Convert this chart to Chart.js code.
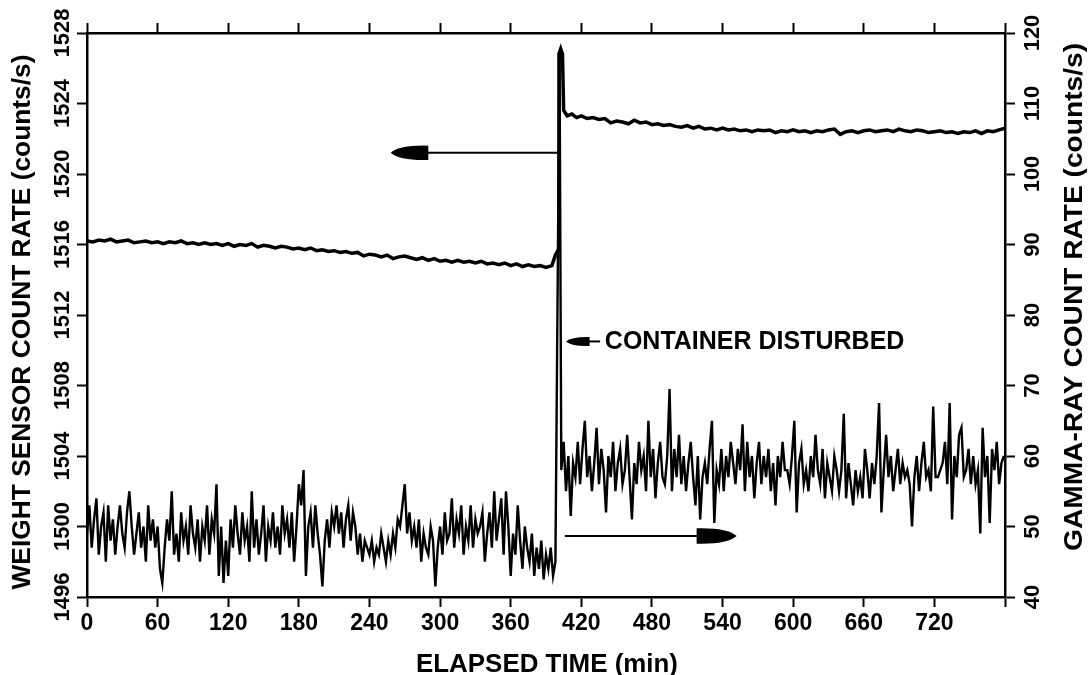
<!DOCTYPE html>
<html>
<head>
<meta charset="utf-8">
<script src="https://cdn.jsdelivr.net/npm/chart.js@4"></script>
<style>
  html, body { margin: 0; padding: 0; background: #fff; }
  #wrap { width: 1089px; height: 675px; position: relative; }
</style>
</head>
<body>
<div id="wrap"><canvas id="myChart"></canvas></div>
<script>
// weight sensor count rate (left axis), minutes / counts per s
const weightTime = [0,5,10,15,20,25,30,35,40,45,50,55,60,65,70,75,80,85,90,95,100,105,110,115,120,125,130,135,140,145,150,155,160,165,170,175,180,185,190,195,200,205,210,215,220,225,230,235,240,245,250,255,260,265,270,275,280,285,290,295,300,305,310,315,320,325,330,335,340,345,350,355,360,365,370,375,380,385,390,395,398,400.5,401,402.5,404,405,408,412,416,420,425,430,435,440,445,450,455,460,465,470,475,480,485,490,495,500,505,510,515,520,525,530,535,540,545,550,555,560,565,570,575,580,585,590,595,600,605,610,615,620,625,630,635,640,645,650,655,660,665,670,675,680,685,690,695,700,705,710,715,720,725,730,735,740,745,750,755,760,765,770,775,780];
const weightRate = [1516.2,1516.15,1516.25,1516.2,1516.3,1516.15,1516.2,1516.25,1516.1,1516.15,1516.2,1516.1,1516.15,1516.05,1516.15,1516.1,1516.2,1516.05,1516.1,1516.0,1516.1,1516.0,1516.05,1515.95,1516.05,1515.9,1516.0,1515.95,1516.05,1515.85,1515.95,1515.9,1515.8,1515.9,1515.85,1515.75,1515.8,1515.7,1515.8,1515.65,1515.7,1515.6,1515.65,1515.55,1515.6,1515.5,1515.55,1515.35,1515.45,1515.4,1515.3,1515.4,1515.2,1515.3,1515.35,1515.25,1515.15,1515.25,1515.1,1515.2,1515.05,1515.1,1515.0,1515.1,1515.0,1515.05,1514.95,1515.05,1514.9,1514.95,1514.85,1514.95,1514.8,1514.9,1514.75,1514.85,1514.75,1514.8,1514.7,1514.8,1515.4,1515.7,1526.8,1527.1,1526.8,1523.6,1523.3,1523.4,1523.2,1523.3,1523.15,1523.2,1523.1,1523.15,1522.9,1523.0,1522.95,1522.85,1523.05,1522.9,1522.95,1522.8,1522.85,1522.75,1522.8,1522.7,1522.65,1522.75,1522.6,1522.7,1522.55,1522.6,1522.5,1522.6,1522.5,1522.55,1522.45,1522.5,1522.4,1522.5,1522.45,1522.5,1522.35,1522.45,1522.4,1522.5,1522.4,1522.45,1522.35,1522.45,1522.4,1522.5,1522.55,1522.25,1522.4,1522.45,1522.35,1522.45,1522.5,1522.4,1522.45,1522.5,1522.4,1522.55,1522.45,1522.4,1522.5,1522.45,1522.35,1522.4,1522.45,1522.35,1522.4,1522.3,1522.4,1522.35,1522.45,1522.3,1522.45,1522.4,1522.5,1522.6];

// gamma-ray count rate (right axis), read every 2 min
// before: t = 0, 2, ... 398    after: t = 403, 405, ... 779
const gammaBefore = [
  49,53,47,51,54,46,50,52,45,53,  48,51,46,50,53,49,47,52,55,50,
  46,49,52,47,50,45,53,48,51,47,  50,44,42,47,51,48,55,46,49,45,
  52,48,50,46,53,49,47,51,45,50,  48,53,46,51,49,56,43,50,42,48,
  43,51,47,53,49,46,52,48,50,45,  55,47,51,46,49,53,45,50,48,52,
  47,50,46,53,49,51,47,52,45,50,  56,53,58,43,50,52,47,53,49,46,
  41.5,48,51,47,52,50,53,49,52,47,  51,53,48,52,50,46,49,45,48,47,
  46,48,45,47,46,49,47,45,48,46,  49,47,51,50,53,56,49,52,48,50,
  47,51,45,49,47,46,50,48,41.5,47,  50,46,52,48,49,54,47,51,49,53,
  46,50,48,53,47,51,49,50,52,45,  49,52,47,55,48,51,54,46,55,50,
  43,49,46,53,48,44,50,47,45,49,  43,47,44,48,42.5,46,44,47,43,45
];
const gammaSpike = [401.5, 117];
const gammaAfter = [
  58,62,55,60,51.5,59,57,62,56,61,  65,57,60,55,59,64,56,61,58,52,
  60,57,62,55,59,61,56,58,63,57,  51,59,56,62,58,60,55,65,57,61,
  54,59,62,57,56,60,69.5,55,61,57,  63,56,60,55,59,62,57,53,60,51,
  57,59,56,61,65,50.5,58,56,61,55,  60,57,62,59,56,61,58,64.5,55,62,
  57,60,54,59,62,56,60,57,61,55,  59,53,60,57,62,58,58,56,60,65,
  52,59,61,56,58,55,60,57,63,58,  56,61,54,59,57,55,60,58,55,58,
  66,54,59,56,53,58,55,57,54,61,  58,54,59,56,60,67.5,52,58,63,57,
  60,55,58,61,56,59,57,58,56,50,  57,60,55,59,62,57,58,55,67,57,
  57,58,59,62,56,67.5,51,60,57,63,  64,57,58,61,56,60,56,58,49,64,
  57,60,50.5,61,58,62,56,59,60
];

const xTicks = [0,60,120,180,240,300,360,420,480,540,600,660,720];

window.addEventListener('load', function(){

  let ctx = document.getElementById('myChart');

  let weightData = weightTime.map((t, i) => ({x: t, y: weightRate[i]}));
  let gammaData = [];
  gammaBefore.forEach((v, i) => gammaData.push({x: i * 2, y: v}));
  gammaData.push({x: gammaSpike[0], y: gammaSpike[1]});
  gammaAfter.forEach((v, i) => gammaData.push({x: 403 + i * 2, y: v}));

  const FONT = '"Liberation Sans", Arial, sans-serif';

  function arrowHead(c, tipX, baseX, y, half){
    c.beginPath();
    c.moveTo(tipX, y);
    c.quadraticCurveTo(tipX + (baseX - tipX) * 0.25, y - half, baseX, y - half * 0.9);
    c.lineTo(baseX, y + half * 0.9);
    c.quadraticCurveTo(tipX + (baseX - tipX) * 0.25, y + half, tipX, y);
    c.closePath();
    c.fill();
  }

  // text centred on (x, y), stretched along its run to a given length
  function stretchText(c, text, x, y, angle, length){
    c.save();
    c.translate(x, y);
    c.rotate(angle);
    c.scale(length / c.measureText(text).width, 1);
    c.fillText(text, 0, 0);
    c.restore();
  }

  const labelsPlugin = {
    id: 'labelsPlugin',
    afterDraw(chart){
      const c = chart.ctx;
      const sx = chart.scales.x, sy = chart.scales.y, sy2 = chart.scales.y2;
      c.save();
      c.fillStyle = '#000';
      c.strokeStyle = '#000';

      // tick labels
      c.textAlign = 'center';
      c.textBaseline = 'middle';
      c.font = 'bold 23px ' + FONT;
      xTicks.forEach(v => c.fillText(String(v), sx.getPixelForValue(v), 624));
      c.font = 'bold 22px ' + FONT;
      sy.ticks.forEach(t => {
        c.save();
        c.translate(63, sy.getPixelForValue(t.value));
        c.rotate(-Math.PI / 2);
        c.fillText(String(t.value), 0, 0);
        c.restore();
      });
      sy2.ticks.forEach(t => {
        c.save();
        c.translate(1033, sy2.getPixelForValue(t.value));
        c.rotate(-Math.PI / 2);
        c.fillText(String(t.value), 0, 0);
        c.restore();
      });

      // axis titles
      c.font = 'bold 25px ' + FONT;
      stretchText(c, 'ELAPSED TIME (min)', 547, 665, 0, 262);
      stretchText(c, 'WEIGHT SENSOR COUNT RATE (counts/s)', 23, 322, -Math.PI / 2, 535);
      stretchText(c, 'GAMMA-RAY COUNT RATE (counts/s)', 1075, 297, -Math.PI / 2, 508);

      // arrow to the left axis
      c.lineWidth = 2;
      let ya = sy.getPixelForValue(1521.2);
      c.beginPath();
      c.moveTo(sx.getPixelForValue(401), ya);
      c.lineTo(sx.getPixelForValue(285), ya);
      c.stroke();
      arrowHead(c, sx.getPixelForValue(258), sx.getPixelForValue(290), ya, 8);

      // arrow to the right axis
      let yb = sy2.getPixelForValue(48.65);
      c.beginPath();
      c.moveTo(sx.getPixelForValue(406), yb);
      c.lineTo(sx.getPixelForValue(522), yb);
      c.stroke();
      arrowHead(c, sx.getPixelForValue(552), sx.getPixelForValue(518), yb, 8.5);

      // container disturbed note
      let yc = sy.getPixelForValue(1510.5);
      c.beginPath();
      c.moveTo(sx.getPixelForValue(425), yc);
      c.lineTo(sx.getPixelForValue(436), yc);
      c.stroke();
      arrowHead(c, sx.getPixelForValue(407), sx.getPixelForValue(427), yc, 5);
      c.font = 'bold 25px ' + FONT;
      c.textAlign = 'left';
      c.fillText('CONTAINER DISTURBED', sx.getPixelForValue(440), yc + 1);
      c.restore();
    }
  };

  const axisGrid = {
    drawOnChartArea: false,
    drawTicks: true,
    tickLength: 10,
    tickWidth: 2,
    tickColor: '#000'
  };
  const axisBorder = { display: true, color: '#000', width: 2.5 };

  let myChart = new Chart(ctx, {
    type: 'line',
    data: {
      datasets: [{
        label: 'WEIGHT SENSOR',
        data: weightData,
        yAxisID: 'y',
        borderColor: '#000',
        borderWidth: 3.5,
        pointRadius: 0,
        tension: 0
      }, {
        label: 'GAMMA-RAY',
        data: gammaData,
        yAxisID: 'y2',
        borderColor: '#000',
        borderWidth: 2.4,
        pointRadius: 0,
        tension: 0
      }]
    },
    options: {
      responsive: true,
      maintainAspectRatio: false,
      animation: false,
      layout: { padding: 0 },
      plugins: {
        legend: { display: false },
        tooltip: { enabled: false }
      },
      scales: {
        x: {
          type: 'linear',
          position: 'bottom',
          min: 0,
          max: 780,
          ticks: { display: false, stepSize: 60 },
          grid: axisGrid,
          border: axisBorder,
          afterFit: s => { s.height = 78; }
        },
        xTop: {
          type: 'linear',
          position: 'top',
          min: 0,
          max: 780,
          ticks: { display: false, stepSize: 60 },
          grid: axisGrid,
          border: axisBorder,
          afterFit: s => { s.height = 33; }
        },
        y: {
          type: 'linear',
          position: 'left',
          min: 1496,
          max: 1528,
          ticks: { display: false, stepSize: 4 },
          grid: axisGrid,
          border: axisBorder,
          afterFit: s => { s.width = 87; }
        },
        y2: {
          type: 'linear',
          position: 'right',
          min: 40,
          max: 120,
          ticks: { display: false, stepSize: 10 },
          grid: axisGrid,
          border: axisBorder,
          afterFit: s => { s.width = 84; }
        }
      }
    },
    plugins: [labelsPlugin]
  });

});
</script>
</body>
</html>
